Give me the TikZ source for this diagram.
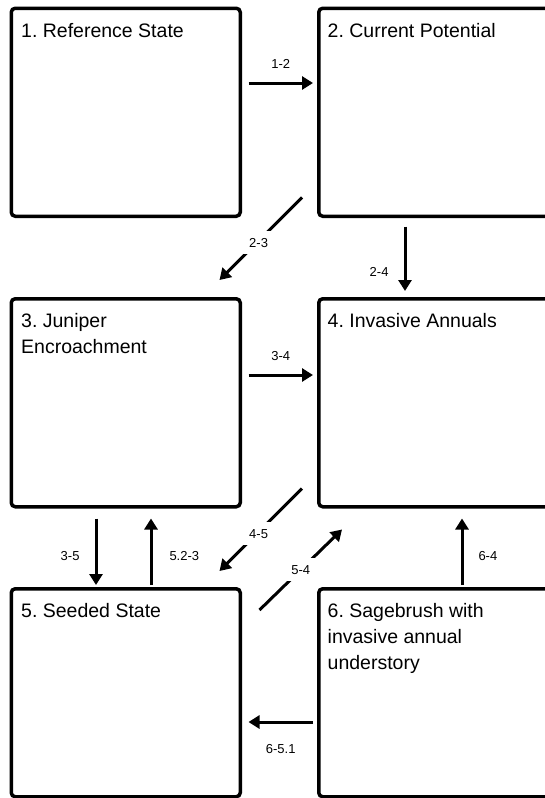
\documentclass[tikz,border=0pt]{standalone}
\usepackage{fontspec}
\setmainfont{Liberation Sans}
\frenchspacing
\usetikzlibrary{arrows.meta,calc}
\tikzset{
  box/.style={draw, line width=3.5pt, rounded corners=4pt, anchor=north west, inner sep=0pt, minimum width=229pt, minimum height=208pt},
  widebox/.style={box, minimum width=240pt},
  boxtxt/.style={anchor=base west, align=left, inner sep=0pt, font=\fontsize{19.5}{26}\selectfont},
  arr/.style={draw, line width=3pt, -{Triangle[length=11pt,width=13pt]}},
  lbl/.style={inner sep=0pt, font=\fontsize{13}{15}\selectfont},
  gaplbl/.style={lbl, fill=white, inner sep=7pt}
}
\begin{document}
\begin{tikzpicture}[x=1pt,y=-1pt]
\useasboundingbox (0,0) rectangle (545,798);
\clip (0,0) rectangle (545,798);
\node[box] (1) at (9.5,6.5) {};
\node[widebox] (2) at (317,6.5) {};
\node[box] (3) at (9.5,297) {};
\node[widebox] (4) at (317,297) {};
\node[box] (5) at (9.5,587) {};
\node[widebox] (6) at (317,587) {};
\node[boxtxt] (t1) at ($(1.north west)+(11.5,31)$) {1. Reference State};
\node[boxtxt] (t2) at ($(2.north west)+(10.5,31)$) {2. Current Potential};
\node[boxtxt] (t3) at ($(3.north west)+(11.5,30+26)$) {3. Juniper\\Encroachment};
\node[boxtxt] (t4) at ($(4.north west)+(10.5,30)$) {4. Invasive Annuals};
\node[boxtxt] (t5) at ($(5.north west)+(11.5,30)$) {5. Seeded State};
\node[boxtxt] (t6) at ($(6.north west)+(10.5,30+52)$) {6. Sagebrush with\\invasive annual\\understory};
\path[arr] ($(1.north east)+(6.5,76.5)$) -- node[lbl,above=13pt] {1-2} ($(2.north west)+(-4,76.5)$);
\path[arr] ($(2.south west)+(-15,-20.5)$) -- node[gaplbl,pos=0.55,xshift=2pt] {2-3} ($(3.north east)+(-22.5,-17)$);
\path[arr] ($(2.south west)+(88,8.5)$) -- node[lbl,left=15pt,pos=0.7] {2-4} ($(4.north west)+(88,-6)$);
\path[arr] ($(3.north east)+(6.5,78)$) -- node[lbl,above=13pt] {3-4} ($(4.north west)+(-4,78)$);
\path[arr] ($(3.south west)+(86.5,10)$) -- node[lbl,left=15pt,pos=0.56] {3-5} ($(5.north west)+(86.5,-2)$);
\path[arr] ($(5.north west)+(141.5,-2)$) -- node[lbl,right=17pt,pos=0.44] {5.2-3} ($(3.south west)+(141.5,10)$);
\path[arr] ($(4.south west)+(-15,-20)$) -- node[gaplbl,pos=0.55,xshift=2pt] {4-5} ($(5.north east)+(-22.5,-16)$);
\path[arr] ($(5.north east)+(17.5,23)$) -- node[gaplbl,pos=0.5] {5-4} ($(4.south west)+(25,21)$);
\path[arr] ($(6.north west)+(145,-2)$) -- node[lbl,right=15pt,pos=0.44] {6-4} ($(4.south west)+(145,10)$);
\path[arr] ($(6.north west)+(-4,135)$) -- node[lbl,below=21pt] {6-5.1} ($(5.north east)+(6.5,135)$);
\end{tikzpicture}
\end{document}
